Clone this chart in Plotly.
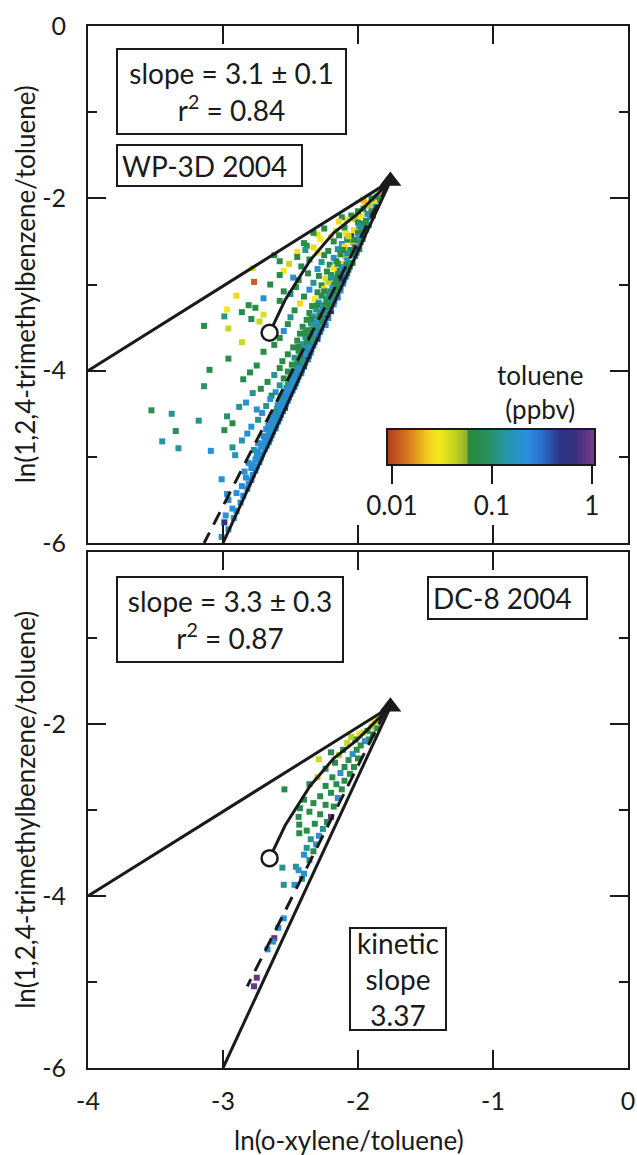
import numpy as np
import plotly.graph_objects as go

INK = "#1a1a1a"
FONT = "Lato"

# ---------------- data ----------------
# common end member (triangle) and the open circle
source_x = [-1.76]
source_y = [-1.80]
circle_x = [-2.655]
circle_y = [-3.56]

# upper (dilution) line and kinetic line, both from the source
upper_line_x = [-1.76, -4.0]
upper_line_y = [-1.80, -4.0]
kinetic_line_x = [-1.76, -3.0]
kinetic_line_y = [-1.80, -6.0]

# curved mixing line from source to the circle
curve_x = [-1.76, -1.86, -2.01, -2.18, -2.355, -2.54, -2.655]
curve_y = [-1.80, -1.96, -2.19, -2.40, -2.72, -3.18, -3.56]

# fitted (dashed) lines
fit_top_x = [-1.78, -3.14]
fit_top_y = [-1.84, -6.0]
fit_bot_x = [-1.80, -2.82]
fit_bot_y = [-1.86, -5.05]

# WP-3D 2004 measurements (scattered part of the cloud)
top_x = [
    -1.82, -1.84, -1.86, -1.85, -1.88, -1.90, -1.87, -1.92, -1.95, -1.90, -1.93, -1.96, -1.98, -2.00, -1.91,
    -1.94, -2.02, -2.05, -2.08, -2.12, -1.97, -2.00, -1.89, -2.14, -1.96, -2.25, -2.30, -2.38, -2.45, -1.97,
    -1.94, -1.98, -2.03, -2.10, -2.16,
    -1.96, -2.00, -2.05, -2.09, -2.14, -2.20, -2.33,
    -1.98, -2.01, -2.04, -2.08, -2.12, -2.18, -2.28, -2.40,
    -1.99, -2.02, -2.06, -2.10, -2.15, -2.22, -2.33, -2.39,
    -2.02, -2.06, -2.09, -2.13, -2.18, -2.25, -2.30, -2.45, -2.62,
    -2.04, -2.08, -2.12, -2.16, -2.21, -2.27, -2.36, -2.51, -2.58,
    -2.07, -2.10, -2.14, -2.18, -2.23, -2.30, -2.42, -2.55, -2.78,
    -2.09, -2.12, -2.16, -2.20, -2.24, -2.29, -2.37, -2.48, -2.58,
    -2.11, -2.14, -2.18, -2.22, -2.27, -2.33, -2.44, -2.65, -2.77,
    -2.13, -2.17, -2.21, -2.25, -2.30, -2.36, -2.46, -2.55,
    -2.15, -2.19, -2.23, -2.27, -2.32, -2.40, -2.50, -2.70, -2.90,
    -2.18, -2.21, -2.25, -2.29, -2.34, -2.43, -2.58, -2.81,
    -2.20, -2.23, -2.27, -2.31, -2.36, -2.47, -2.76, -2.86, -2.97,
    -2.22, -2.25, -2.29, -2.33, -2.38, -2.50, -2.70, -2.79, -2.99,
    -2.24, -2.27, -2.31, -2.35, -2.41, -2.52, -2.73, -3.14,
    -2.28, -2.29, -2.33, -2.37, -2.43, -2.55, -2.96,
    -2.30, -2.31, -2.35, -2.39, -2.45, -2.58,
    -2.33, -2.34, -2.37, -2.41, -2.48, -2.62, -2.86,
    -2.35, -2.37, -2.40, -2.44, -2.52, -2.70,
    -2.37, -2.40, -2.43, -2.47, -2.56, -2.96,
    -2.40, -2.42, -2.45, -2.49, -2.58, -2.75,
    -2.42, -2.44, -2.47, -2.52, -2.62, -2.80, -3.10,
    -2.45, -2.47, -2.50, -2.55, -2.67, -2.85,
    -2.47, -2.50, -2.53, -2.58, -2.72, -3.14,
    -2.50, -2.52, -2.55, -2.61, -2.64, -2.78,
    -2.52, -2.55, -2.58, -2.65, -2.83,
    -2.54, -2.57, -2.60, -2.68, -2.75, -2.88, -3.53,
    -2.57, -2.59, -2.62, -2.71, -2.97, -3.38,
    -2.59, -2.62, -2.65, -2.74, -2.93, -3.18,
    -2.61, -2.64, -2.68, -2.79, -2.99,
    -2.64, -2.66, -2.70, -2.82, -3.35,
    -2.66, -2.69, -2.74, -2.86, -3.45,
    -2.69, -2.72, -2.77, -2.93, -3.33,
    -2.71, -2.74, -2.91, -3.09,
    -2.73, -2.76, -2.81,
    -2.76, -2.79, -2.84,
    -2.79, -2.83, -3.01,
    -2.82, -2.86,
    -2.85, -2.90, -2.97,
    -2.87, -2.96,
    -2.90, -2.93,
    -2.92, -2.98,
    -2.99,
    -2.96,
    -3.01,
]
top_y = [
    -1.90, -1.95, -1.98, -2.02, -2.05, -2.00, -2.10, -2.08, -2.05, -2.15, -2.18, -2.12, -2.20, -2.15, -2.22,
    -2.26, -2.24, -2.20, -2.25, -2.22, -2.30, -2.28, -2.20, -2.27, -2.02, -2.35, -2.42, -2.55, -2.62, -2.37,
    -2.36, -2.33, -2.37, -2.34, -2.38,
    -2.43, -2.40, -2.44, -2.41, -2.43, -2.45, -2.40,
    -2.51, -2.49, -2.52, -2.48, -2.53, -2.50, -2.47, -2.52,
    -2.59, -2.57, -2.60, -2.56, -2.59, -2.61, -2.57, -2.60,
    -2.67, -2.64, -2.68, -2.65, -2.69, -2.66, -2.63, -2.68, -2.66,
    -2.75, -2.72, -2.76, -2.73, -2.77, -2.74, -2.71, -2.76, -2.73,
    -2.83, -2.80, -2.84, -2.81, -2.85, -2.82, -2.79, -2.84, -2.81,
    -2.91, -2.88, -2.92, -2.89, -2.93, -2.90, -2.87, -2.92, -2.89,
    -2.99, -2.96, -3.00, -2.97, -3.01, -2.98, -2.95, -3.00, -2.97,
    -3.07, -3.04, -3.08, -3.05, -3.09, -3.06, -3.03, -3.08,
    -3.15, -3.12, -3.16, -3.13, -3.17, -3.14, -3.11, -3.16, -3.13,
    -3.23, -3.20, -3.24, -3.21, -3.25, -3.22, -3.19, -3.24,
    -3.31, -3.28, -3.32, -3.29, -3.33, -3.30, -3.27, -3.32, -3.29,
    -3.39, -3.36, -3.40, -3.37, -3.41, -3.38, -3.35, -3.40, -3.37,
    -3.47, -3.44, -3.48, -3.45, -3.49, -3.46, -3.43, -3.48,
    -3.55, -3.52, -3.56, -3.53, -3.57, -3.54, -3.51,
    -3.63, -3.60, -3.64, -3.61, -3.65, -3.62,
    -3.71, -3.68, -3.72, -3.69, -3.73, -3.70, -3.67,
    -3.79, -3.76, -3.80, -3.77, -3.81, -3.78,
    -3.87, -3.84, -3.88, -3.85, -3.89, -3.86,
    -3.95, -3.92, -3.96, -3.93, -3.97, -3.94,
    -4.03, -4.00, -4.04, -4.01, -4.05, -4.02, -3.99,
    -4.11, -4.08, -4.12, -4.09, -4.13, -4.10,
    -4.19, -4.16, -4.20, -4.17, -4.21, -4.18,
    -4.27, -4.24, -4.28, -4.25, -4.29, -4.26,
    -4.35, -4.32, -4.36, -4.33, -4.37,
    -4.43, -4.40, -4.44, -4.41, -4.45, -4.42, -4.46,
    -4.51, -4.48, -4.52, -4.49, -4.53, -4.50,
    -4.59, -4.56, -4.60, -4.57, -4.61, -4.58,
    -4.67, -4.64, -4.68, -4.65, -4.69,
    -4.75, -4.72, -4.76, -4.73, -4.70,
    -4.83, -4.80, -4.84, -4.81, -4.82,
    -4.91, -4.88, -4.92, -4.89, -4.90,
    -4.97, -4.94, -4.98, -4.93,
    -5.06, -5.03, -5.07,
    -5.16, -5.13, -5.17,
    -5.27, -5.24, -5.26,
    -5.37, -5.34,
    -5.45, -5.42, -5.43,
    -5.53, -5.50,
    -5.63, -5.60,
    -5.71, -5.68,
    -5.76,
    -5.84,
    -5.93,
]
top_tol = [
    0.07, 0.03, 0.2, 0.07, 0.025, 0.07, 0.2, 0.045, 0.025, 0.07, 0.12, 0.07, 0.03, 0.07, 0.2,
    0.07, 0.045, 0.07, 0.025, 0.07, 0.5, 0.07, 0.9, 0.025, 0.02, 0.07, 0.035, 0.07, 0.03, 0.011,
    0.07, 0.2, 0.025, 0.07, 0.04,
    0.12, 0.07, 0.5, 0.03, 0.07, 0.025, 0.07,
    0.2, 0.07, 0.045, 0.07, 0.2, 0.07, 0.03, 0.07,
    0.07, 0.9, 0.07, 0.025, 0.12, 0.07, 0.025, 0.12,
    0.2, 0.07, 0.04, 0.07, 0.2, 0.07, 0.03, 0.07, 0.07,
    0.07, 0.2, 0.025, 0.07, 0.07, 0.12, 0.07, 0.04, 0.07,
    0.2, 0.07, 0.07, 0.03, 0.07, 0.2, 0.07, 0.03, 0.035,
    0.25, 0.07, 0.12, 0.07, 0.025, 0.07, 0.07, 0.2, 0.07,
    0.2, 0.07, 0.07, 0.04, 0.07, 0.12, 0.07, 0.07, 0.012,
    0.2, 0.07, 0.07, 0.025, 0.07, 0.2, 0.07, 0.07,
    0.25, 0.07, 0.12, 0.07, 0.03, 0.07, 0.12, 0.2, 0.025,
    0.2, 0.07, 0.07, 0.2, 0.07, 0.025, 0.07, 0.07,
    0.5, 0.07, 0.07, 0.12, 0.07, 0.07, 0.07, 0.07, 0.03,
    0.2, 0.07, 0.07, 0.2, 0.07, 0.12, 0.035, 0.07, 0.12,
    0.25, 0.07, 0.07, 0.12, 0.07, 0.07, 0.04, 0.07,
    0.2, 0.07, 0.2, 0.07, 0.07, 0.2, 0.04,
    0.5, 0.07, 0.07, 0.12, 0.07, 0.07,
    0.2, 0.07, 0.07, 0.2, 0.07, 0.07, 0.04,
    0.25, 0.07, 0.12, 0.07, 0.07, 0.07,
    0.2, 0.07, 0.07, 0.12, 0.07, 0.07,
    0.5, 0.07, 0.12, 0.07, 0.07, 0.07,
    0.2, 0.12, 0.07, 0.07, 0.12, 0.07, 0.07,
    0.25, 0.2, 0.12, 0.07, 0.07, 0.07,
    0.2, 0.2, 0.12, 0.12, 0.07, 0.1,
    0.25, 0.2, 0.12, 0.2, 0.07, 0.12,
    0.2, 0.25, 0.12, 0.2, 0.2,
    0.5, 0.2, 0.12, 0.12, 0.2, 0.12, 0.08,
    0.25, 0.2, 0.12, 0.2, 0.1, 0.12,
    0.2, 0.2, 0.25, 0.12, 0.07, 0.12,
    0.2, 0.25, 0.2, 0.2, 0.07,
    0.25, 0.2, 0.12, 0.2, 0.09,
    0.2, 0.25, 0.2, 0.15, 0.13,
    0.25, 0.2, 0.12, 0.12, 0.13,
    0.2, 0.2, 0.15, 0.22,
    0.25, 0.2, 0.2,
    0.2, 0.25, 0.2,
    0.25, 0.2, 0.2,
    0.2, 0.25,
    0.25, 0.2, 0.2,
    0.2, 0.25,
    0.25, 0.2,
    0.2, 0.2,
    0.5,
    0.25,
    0.2,
]

# WP-3D 2004 measurements (dense band next to the kinetic line)
band_x = [
    -1.92, -1.95, -1.99,
    -1.965, -1.99, -2.03, -2.07,
    -2.01, -2.04, -2.08, -2.11,
    -2.06, -2.085, -2.12, -2.15,
    -2.08, -2.11, -2.15,
    -2.105, -2.13, -2.165, -2.20,
    -2.13, -2.155, -2.19,
    -2.155, -2.18, -2.215, -2.25,
    -2.175, -2.20, -2.235,
    -2.20, -2.225, -2.26, -2.30,
    -2.225, -2.25, -2.285,
    -2.25, -2.275, -2.31, -2.345,
    -2.27, -2.30, -2.335,
    -2.295, -2.32, -2.355, -2.39,
    -2.32, -2.345, -2.38,
    -2.345, -2.37, -2.405, -2.44,
    -2.365, -2.39, -2.425,
    -2.39, -2.415, -2.45,
    -2.415, -2.44, -2.475,
    -2.44, -2.465, -2.50,
    -2.46, -2.485, -2.52,
    -2.485, -2.51, -2.545,
    -2.51, -2.535, -2.57,
    -2.535, -2.56, -2.595,
    -2.555, -2.58, -2.615,
    -2.58, -2.605, -2.64,
    -2.605, -2.63, -2.665,
    -2.63, -2.655,
    -2.65, -2.68,
    -2.675, -2.70,
    -2.72, -2.75,
    -2.75, -2.78,
    -2.78,
    -2.81,
]
band_y = [
    -2.31, -2.29, -2.32,
    -2.47, -2.45, -2.48, -2.44,
    -2.63, -2.61, -2.64, -2.60,
    -2.79, -2.77, -2.80, -2.76,
    -2.87, -2.85, -2.88,
    -2.95, -2.93, -2.96, -2.92,
    -3.03, -3.01, -3.04,
    -3.11, -3.09, -3.12, -3.08,
    -3.19, -3.17, -3.20,
    -3.27, -3.25, -3.28, -3.24,
    -3.35, -3.33, -3.36,
    -3.43, -3.41, -3.44, -3.40,
    -3.51, -3.49, -3.52,
    -3.59, -3.57, -3.60, -3.56,
    -3.67, -3.65, -3.68,
    -3.75, -3.73, -3.76, -3.72,
    -3.83, -3.81, -3.84,
    -3.91, -3.89, -3.92,
    -3.99, -3.97, -4.00,
    -4.07, -4.05, -4.08,
    -4.15, -4.13, -4.16,
    -4.23, -4.21, -4.24,
    -4.31, -4.29, -4.32,
    -4.39, -4.37, -4.40,
    -4.47, -4.45, -4.48,
    -4.55, -4.53, -4.56,
    -4.63, -4.61, -4.64,
    -4.71, -4.69,
    -4.79, -4.77,
    -4.87, -4.85,
    -5.01, -4.99,
    -5.11, -5.09,
    -5.21,
    -5.31,
]
band_tol = [
    0.2, 0.07, 0.12,
    0.07, 0.2, 0.07, 0.04,
    0.2, 0.07, 0.12, 0.07,
    0.12, 0.07, 0.2, 0.07,
    0.07, 0.2, 0.07,
    0.2, 0.5, 0.07, 0.12,
    0.12, 0.07, 0.2,
    0.2, 0.07, 0.12, 0.07,
    0.25, 0.12, 0.07,
    0.2, 0.07, 0.2, 0.07,
    0.9, 0.12, 0.07,
    0.2, 0.07, 0.2, 0.07,
    0.2, 0.12, 0.07,
    0.25, 0.2, 0.07, 0.07,
    0.2, 0.12, 0.07,
    0.25, 0.2, 0.12, 0.07,
    0.5, 0.2, 0.07,
    0.2, 0.12, 0.07,
    0.25, 0.2, 0.12,
    0.2, 0.25, 0.12,
    0.2, 0.2, 0.12,
    0.25, 0.2, 0.2,
    0.2, 0.25, 0.12,
    0.2, 0.2, 0.2,
    0.25, 0.2, 0.12,
    0.2, 0.25, 0.2,
    0.2, 0.2, 0.2,
    0.25, 0.2,
    0.2, 0.25,
    0.2, 0.2,
    0.25, 0.2,
    0.2, 0.2,
    0.25,
    0.2,
]

# DC-8 2004 measurements
bot_x = [
    -1.82, -1.85, -1.88, -1.86, -1.90, -1.93, -1.89, -1.96, -1.99, -1.92, -1.95, -2.02, -2.05, -1.98, -2.08,
    -2.01, -2.11, -2.04, -2.14, -2.20, -2.29, -2.07, -2.00, -2.17, -2.10, -2.03, -2.24, -2.13, -2.06, -2.19,
    -2.30, -2.10, -2.16, -2.24, -2.36, -2.545, -2.12, -2.20, -2.28, -2.15, -2.40, -2.33, -2.24, -2.18, -2.43,
    -2.36, -2.20, -2.28, -2.44, -2.23, -2.32, -2.435, -2.26, -2.38, -2.435, -2.29, -2.35, -2.31, -2.38, -2.33,
    -2.40, -2.36, -2.56, -2.46, -2.44, -2.415, -2.40, -2.55, -2.47, -2.55, -2.59, -2.62, -2.63, -2.67, -2.75,
    -2.77,
]
bot_y = [
    -1.90, -1.95, -1.98, -2.05, -2.03, -2.08, -2.12, -2.10, -2.12, -2.18, -2.20, -2.18, -2.15, -2.25, -2.22,
    -2.30, -2.30, -2.35, -2.36, -2.33, -2.41, -2.42, -2.40, -2.45, -2.50, -2.50, -2.52, -2.57, -2.58, -2.62,
    -2.62, -2.66, -2.70, -2.72, -2.70, -2.76, -2.76, -2.80, -2.84, -2.86, -2.88, -2.92, -2.94, -2.96, -2.98,
    -3.02, -3.08, -3.05, -3.08, -3.14, -3.16, -3.17, -3.22, -3.24, -3.27, -3.30, -3.34, -3.40, -3.44, -3.48,
    -3.52, -3.58, -3.67, -3.66, -3.70, -3.80, -3.74, -3.87, -3.87, -4.26, -4.37, -4.49, -4.53, -4.62, -4.95,
    -5.05,
]
bot_tol = [
    0.07, 0.04, 0.025, 0.07, 0.045, 0.07, 0.07, 0.04, 0.035, 0.07, 0.2, 0.07, 0.045, 0.07, 0.04,
    0.07, 0.07, 0.2, 0.045, 0.07, 0.04, 0.07, 0.07, 0.07, 0.07, 0.07, 0.07, 0.2, 0.07, 0.07,
    0.045, 0.07, 0.07, 0.07, 0.07, 0.07, 0.07, 0.07, 0.07, 0.2, 0.07, 0.07, 0.07, 0.07, 0.07,
    0.07, 0.9, 0.07, 0.07, 0.07, 0.07, 0.07, 0.12, 0.07, 0.07, 0.2, 0.12, 0.2, 0.12, 0.07,
    0.2, 0.12, 0.12, 0.12, 0.2, 0.12, 0.2, 0.12, 0.2, 0.2, 0.2, 0.9, 0.2, 0.2, 0.9,
    0.9,
]

assert len(top_x) == len(top_y) == len(top_tol)
assert len(band_x) == len(band_y) == len(band_tol)
assert len(bot_x) == len(bot_y) == len(bot_tol)

# colour bar ticks (toluene, ppbv)
cbar_vals = [0.01, 0.1, 1]
cbar_text = ["0.01", "0.1", "1"]
CMIN, CMAX = -2.05, 0.03

CSCALE = [
    [0.00, "#b03a1c"], [0.10, "#d8761e"], [0.20, "#f2d21e"], [0.25, "#f5e81e"],
    [0.33, "#c0d21e"], [0.385, "#8cb02e"], [0.39, "#2a8a3c"], [0.48, "#2b8f5a"],
    [0.57, "#2496a8"], [0.68, "#2c8ee0"], [0.75, "#2a6cc8"], [0.83, "#2c3488"],
    [0.90, "#36307e"], [1.00, "#7c3a8c"],
]

fig = go.Figure()

all_top_x = top_x + band_x
all_top_y = top_y + band_y
all_top_tol = top_tol + band_tol

for xs, ys, tol, xa, ya, show in [
    (all_top_x, all_top_y, all_top_tol, "x", "y", True),
    (bot_x, bot_y, bot_tol, "x2", "y2", False),
]:
    fig.add_trace(go.Scatter(
        x=xs, y=ys, mode="markers", xaxis=xa, yaxis=ya, showlegend=False, hoverinfo="skip",
        marker=dict(
            symbol="square", size=6, color=np.log10(tol), colorscale=CSCALE,
            cmin=CMIN, cmax=CMAX, showscale=show,
            colorbar=dict(
                orientation="h", x=0.746, xanchor="center", y=0.6132, yanchor="top",
                len=208, lenmode="pixels", thickness=36, thicknessmode="pixels",
                outlinewidth=2, outlinecolor=INK, xpad=0, ypad=0,
                tickvals=list(np.log10(cbar_vals)), ticktext=cbar_text,
                ticks="outside", ticklen=18, tickwidth=2, tickcolor=INK,
                tickfont=dict(size=26, color=INK, family=FONT),
            ) if show else None,
        ),
    ))

for xa, ya, fx, fy in [("x", "y", fit_top_x, fit_top_y), ("x2", "y2", fit_bot_x, fit_bot_y)]:
    line = dict(color=INK, width=3)
    fig.add_trace(go.Scatter(x=upper_line_x, y=upper_line_y, mode="lines", line=line,
                             xaxis=xa, yaxis=ya, showlegend=False, hoverinfo="skip"))
    fig.add_trace(go.Scatter(x=kinetic_line_x, y=kinetic_line_y, mode="lines", line=line,
                             xaxis=xa, yaxis=ya, showlegend=False, hoverinfo="skip"))
    fig.add_trace(go.Scatter(x=curve_x, y=curve_y, mode="lines", line=line,
                             xaxis=xa, yaxis=ya, showlegend=False, hoverinfo="skip"))
    fig.add_trace(go.Scatter(x=fx, y=fy, mode="lines", line=dict(color=INK, width=3, dash="14px,9px"),
                             xaxis=xa, yaxis=ya, showlegend=False, hoverinfo="skip"))
    fig.add_trace(go.Scatter(x=circle_x, y=circle_y, mode="markers", xaxis=xa, yaxis=ya,
                             marker=dict(symbol="circle", size=16, color="white",
                                         line=dict(color=INK, width=2.5)),
                             showlegend=False, hoverinfo="skip", cliponaxis=False))
    fig.add_trace(go.Scatter(x=source_x, y=source_y, mode="markers", xaxis=xa, yaxis=ya,
                             marker=dict(symbol="triangle-up", size=19, color=INK),
                             showlegend=False, hoverinfo="skip", cliponaxis=False))

axis_common = dict(
    showline=True, linewidth=2, linecolor=INK, mirror="ticks", ticks="inside",
    ticklen=18, tickwidth=2, tickcolor=INK, showgrid=False, zeroline=False,
    tickfont=dict(size=25, color=INK, family=FONT),
)
minor_y = dict(tickvals=[-1, -3, -5], ticks="inside", ticklen=9, tickwidth=2, tickcolor=INK)

fig.update_layout(
    width=637, height=1155,
    margin=dict(l=88, r=2, t=26, b=87),
    paper_bgcolor="white", plot_bgcolor="white",
    font=dict(family=FONT, size=25, color=INK),
    xaxis=dict(axis_common, domain=[0, 1], range=[-4, 0], tickvals=[-4, -3, -2, -1, 0],
               showticklabels=False, anchor="y"),
    xaxis2=dict(axis_common, domain=[0, 1], range=[-4, 0], tickvals=[-4, -3, -2, -1, 0],
                ticktext=["-4", "-3", "-2", "-1", "0"], anchor="y2", ticklabelstandoff=10,
                ticklabeloverflow="allow"),
    yaxis=dict(axis_common, domain=[0.5038, 1], range=[-6, 0], tickvals=[0, -2, -4, -6],
               ticktext=["0", "-2", "-4", "-6"], minor=minor_y, anchor="x", ticklabelstandoff=15),
    yaxis2=dict(axis_common, domain=[0, 0.4952], range=[-6, 0], tickvals=[-2, -4, -6],
                ticktext=["-2", "-4", "-6"], minor=minor_y, anchor="x2", ticklabelstandoff=15),
)

ytitle = "ln(1,2,4-trimethylbenzene/toluene)"
box = dict(bordercolor=INK, borderwidth=2, bgcolor="white", showarrow=False,
           font=dict(size=28, color=INK, family=FONT))
annotations = [
    # axis titles
    dict(text=ytitle, xref="paper", yref="y domain", x=-0.117, y=0.5, textangle=-90,
         showarrow=False, xanchor="center", yanchor="middle", font=dict(size=26)),
    dict(text=ytitle, xref="paper", yref="y2 domain", x=-0.117, y=0.5, textangle=-90,
         showarrow=False, xanchor="center", yanchor="middle", font=dict(size=26)),
    dict(text="ln(o-xylene/toluene)", xref="paper", yref="paper", x=0.4826, y=-0.069,
         showarrow=False, xanchor="center", yanchor="middle", font=dict(size=26)),
    # colour bar title
    dict(text="toluene<br>(ppbv)", xref="x domain", yref="y domain", x=0.838, y=0.292,
         showarrow=False, xanchor="center", yanchor="middle", font=dict(size=26)),
    # boxes, top panel
    dict(box, text="slope = 3.1 ± 0.1<br>r<sup>2</sup> = 0.84", xref="x domain", yref="y domain",
         x=0.0512, y=0.9574, xanchor="left", yanchor="top", width=227, height=83, borderpad=0,
         align="center"),
    dict(box, text="WP-3D 2004", xref="x domain", yref="y domain",
         x=0.0512, y=0.7718, xanchor="left", yanchor="top", width=175, height=31, borderpad=4,
         align="left"),
    # boxes, bottom panel
    dict(box, text="slope = 3.3 ± 0.3<br>r<sup>2</sup> = 0.87", xref="x2 domain", yref="y2 domain",
         x=0.0512, y=0.9535, xanchor="left", yanchor="top", width=224, height=83, borderpad=0,
         align="center"),
    dict(box, text="DC-8 2004", xref="x2 domain", yref="y2 domain",
         x=0.627, y=0.9535, xanchor="left", yanchor="top", width=149, height=32, borderpad=4,
         align="left"),
    dict(box, text="kinetic<br>slope<br>3.37", xref="x2 domain", yref="y2 domain",
         x=0.4826, y=0.2733, xanchor="left", yanchor="top", width=94, height=100, borderpad=0,
         align="center"),
]
fig.update_layout(annotations=annotations)

fig.write_html("out.html")
